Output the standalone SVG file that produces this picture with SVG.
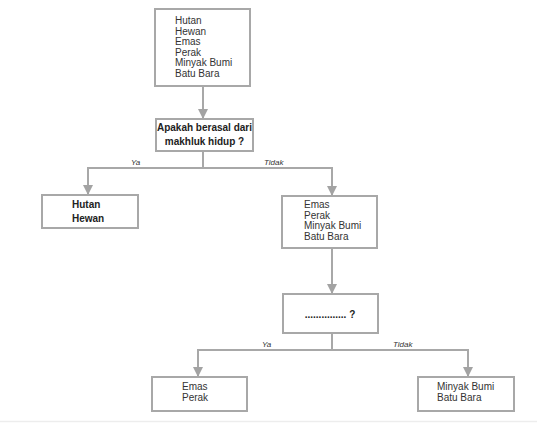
<svg xmlns="http://www.w3.org/2000/svg" width="537" height="423" viewBox="0 0 537 423">
<defs>
<marker id="ah" viewBox="0 0 10 10" refX="9" refY="5" markerWidth="5" markerHeight="5" orient="auto" markerUnits="strokeWidth">
<path d="M0,0 L10,5 L0,10 z" fill="#a3a3a3"/>
</marker>
<style>
.box{fill:#fff;stroke:#a8a8a8;stroke-width:2}
.ln{fill:none;stroke:#a8a8a8;stroke-width:2}
.t{font-family:"Liberation Sans",Arial,sans-serif;font-size:10px;fill:#333}
.b{font-family:"Liberation Sans",Arial,sans-serif;font-size:10px;font-weight:bold;fill:#222}
.lab{font-family:"Liberation Sans",Arial,sans-serif;font-size:8px;font-style:italic;fill:#333}
</style>
</defs>
<rect width="537" height="423" fill="#fff"/>
<line x1="0" y1="421.5" x2="537" y2="421.5" stroke="#ededed" stroke-width="1.5"/>
<g id="connectors">
<line class="ln" x1="203" y1="86" x2="203" y2="118" marker-end="url(#ah)"/>
<polyline class="ln" points="203,151 203,168"/>
<polyline class="ln" points="88,168 332,168"/>
<line class="ln" x1="88" y1="167" x2="88" y2="194" marker-end="url(#ah)"/>
<line class="ln" x1="332" y1="167" x2="332" y2="195" marker-end="url(#ah)"/>
<line class="ln" x1="332" y1="248" x2="332" y2="293" marker-end="url(#ah)"/>
<polyline class="ln" points="332,333 332,350"/>
<polyline class="ln" points="198,350 468,350"/>
<line class="ln" x1="198" y1="349" x2="198" y2="376" marker-end="url(#ah)"/>
<line class="ln" x1="468" y1="349" x2="468" y2="376" marker-end="url(#ah)"/>
<text class="lab" x="131" y="165">Ya</text>
<text class="lab" x="264" y="165">Tidak</text>
<text class="lab" x="262" y="347">Ya</text>
<text class="lab" x="393" y="347">Tidak</text>
</g>
<g id="n-all">
<rect class="box" x="155" y="9" width="95" height="77"/>
<text class="t" x="175" y="24">Hutan</text>
<text class="t" x="175" y="34.5">Hewan</text>
<text class="t" x="175" y="45">Emas</text>
<text class="t" x="175" y="55.5">Perak</text>
<text class="t" x="175" y="66">Minyak Bumi</text>
<text class="t" x="175" y="76.5">Batu Bara</text>
</g>
<g id="n-q1">
<rect class="box" x="156" y="119" width="97" height="32"/>
<text class="b" x="204.5" y="131" text-anchor="middle" font-size="9">Apakah berasal dari</text>
<text class="b" x="204.5" y="145" text-anchor="middle" font-size="9">makhluk hidup ?</text>
</g>
<g id="n-hidup">
<rect class="box" x="42" y="195" width="96" height="33"/>
<text class="b" x="72" y="208">Hutan</text>
<text class="b" x="72" y="222">Hewan</text>
</g>
<g id="n-tak">
<rect class="box" x="282" y="196" width="95" height="52"/>
<text class="t" x="304" y="208">Emas</text>
<text class="t" x="304" y="218.5">Perak</text>
<text class="t" x="304" y="229">Minyak Bumi</text>
<text class="t" x="304" y="239.5">Batu Bara</text>
</g>
<g id="n-q2">
<rect class="box" x="283" y="294" width="95" height="39"/>
<text class="b" x="330" y="318" text-anchor="middle">............... ?</text>
</g>
<g id="n-emas">
<rect class="box" x="152" y="377" width="95" height="34"/>
<text class="t" x="182" y="390">Emas</text>
<text class="t" x="182" y="401">Perak</text>
</g>
<g id="n-minyak">
<rect class="box" x="418" y="377" width="96" height="34"/>
<text class="t" x="437" y="390">Minyak Bumi</text>
<text class="t" x="437" y="401">Batu Bara</text>
</g>
</svg>
